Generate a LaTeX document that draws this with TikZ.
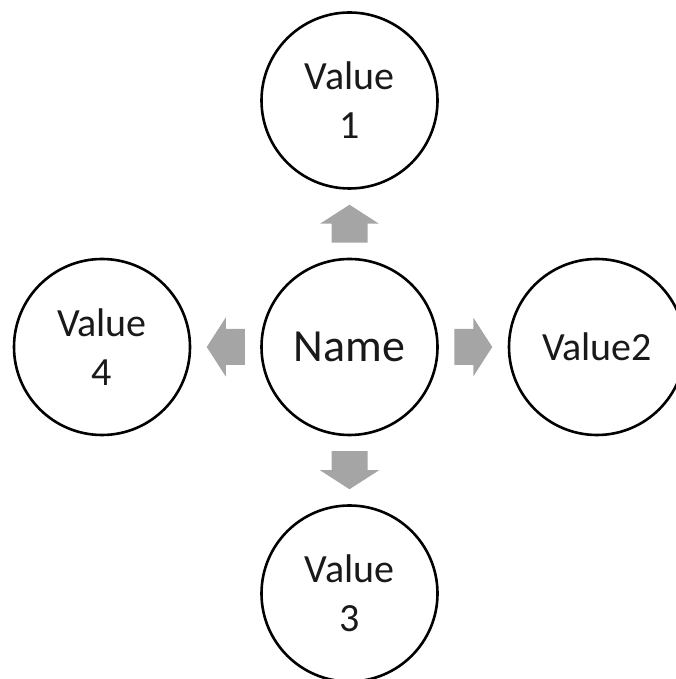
\documentclass[tikz,border=0pt]{standalone}
\usepackage{fontspec}
\setmainfont{Carlito}
\begin{document}
\begin{tikzpicture}[x=1pt,y=1pt,
  bubble/.style={circle, draw=black, line width=2.6pt, minimum size=176pt, inner sep=0pt, align=center, font=\fontsize{40}{49}\selectfont, text=black!90},
  namebubble/.style={bubble, font=\fontsize{46}{56}\selectfont},
  blockarrow/.pic={\fill[arrowgray] (-19,-18) -- (0,-18) -- (0,-29.5) -- (19,0) -- (0,29.5) -- (0,18) -- (-19,18) -- cycle;}]
\definecolor{arrowgray}{HTML}{A5A5A5}
\useasboundingbox (0,0) rectangle (676,679);
\clip (0,0) rectangle (676,679);
\node[namebubble] (m) at (349.5,332) {Name};
\node[bubble] (t) at (349.5,578.5) {Value\\1};
\node[bubble] (r) at (597,332) {Value2};
\node[bubble] (b) at (349.5,85.5) {Value\\3};
\node[bubble] (l) at (102,332) {Value\\4};
\path (m.center) -- (t.center) coordinate[midway] (at);
\path (m.center) -- (r.center) coordinate[midway] (ar);
\path (m.center) -- (b.center) coordinate[midway] (ab);
\path (m.center) -- (l.center) coordinate[midway] (al);
\pic[rotate=90] at (at) {blockarrow};
\pic at (ar) {blockarrow};
\pic[rotate=-90] at (ab) {blockarrow};
\pic[rotate=180] at (al) {blockarrow};
\end{tikzpicture}
\end{document}
